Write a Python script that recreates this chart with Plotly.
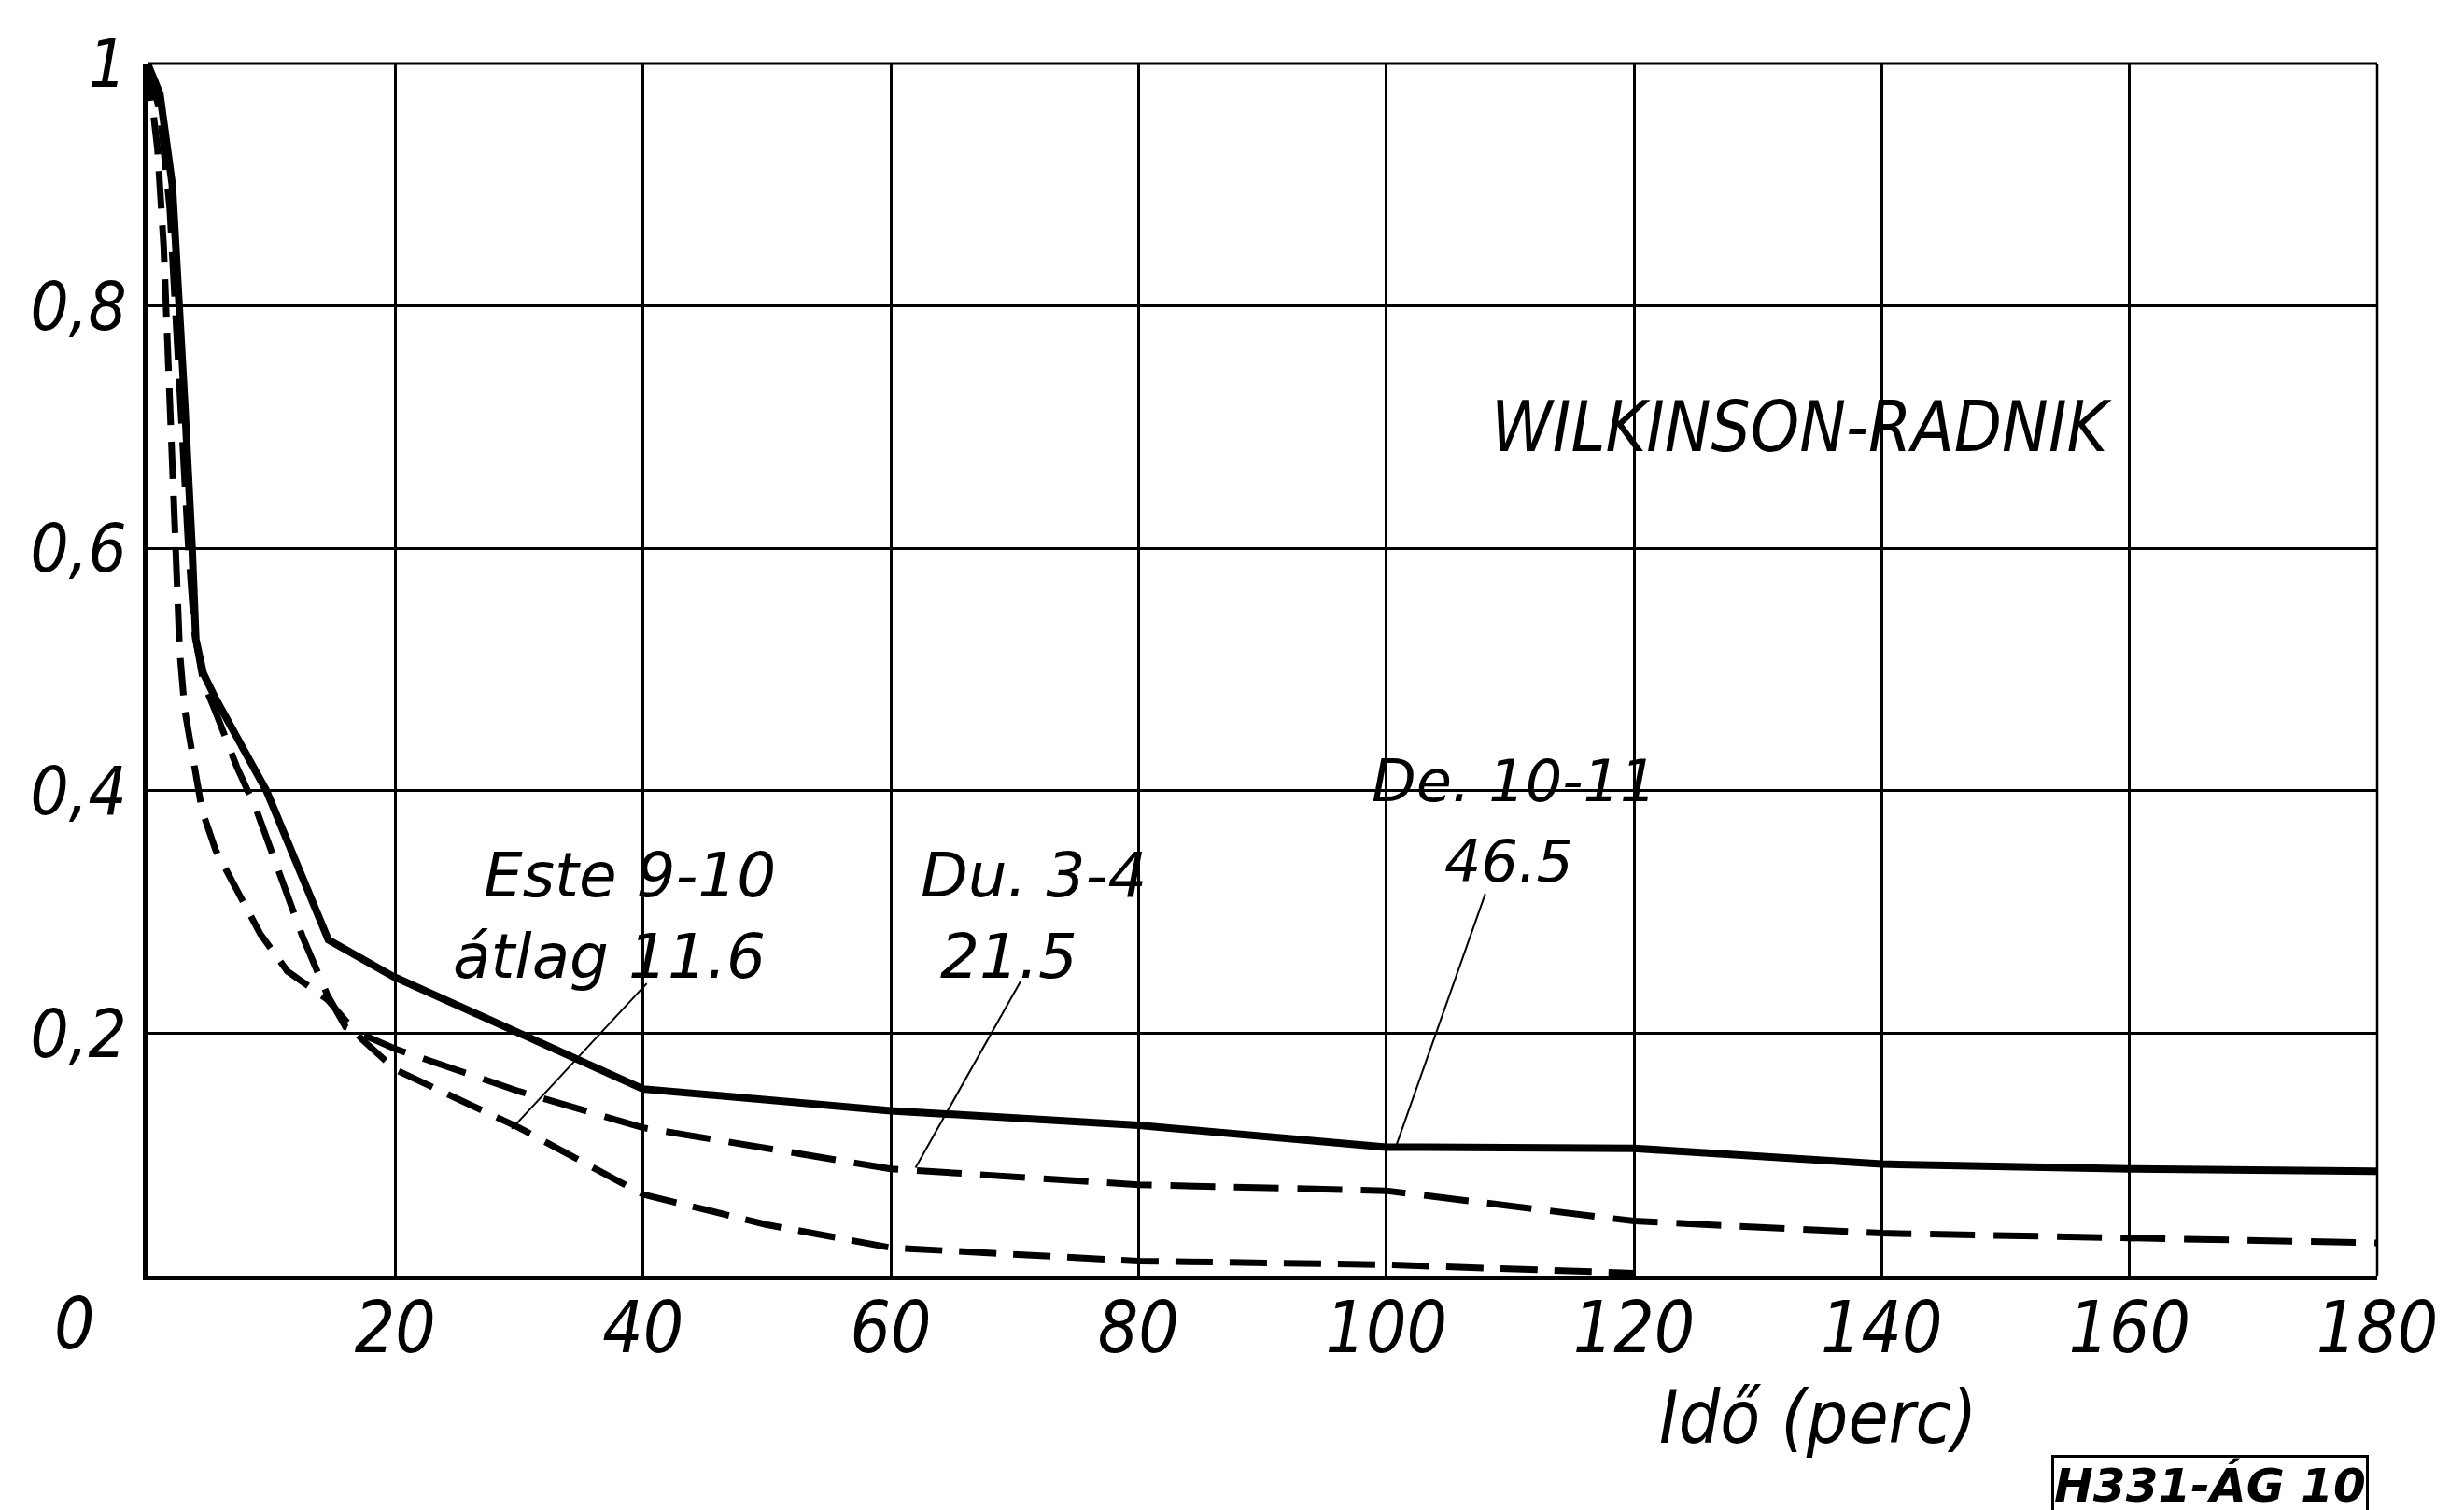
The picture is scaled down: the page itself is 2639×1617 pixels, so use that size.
import plotly.graph_objects as go

# ---- data ----
de_x = [0, 1, 2, 2.6, 3.0, 3.6, 3.9, 4.5, 5.5, 9.6, 14.6, 19.8, 40, 60, 80, 100, 120, 140, 160, 180]
de_y = [1.0, 0.975, 0.9, 0.8, 0.72, 0.6, 0.525, 0.497, 0.476, 0.40, 0.277, 0.247, 0.154, 0.136, 0.124, 0.106, 0.105, 0.092, 0.088, 0.086]

du_x = [0, 1, 1.8, 2.2, 2.7, 3.3, 3.8, 4.5, 5.5, 7.2, 8.8, 10.2, 11.6, 12.5, 14.5, 16, 20, 30, 40, 60, 80, 100, 120, 140, 160, 180]
du_y = [1.0, 0.96, 0.88, 0.8, 0.7, 0.6, 0.53, 0.49, 0.465, 0.42, 0.384, 0.344, 0.306, 0.28, 0.232, 0.205, 0.187, 0.152, 0.122, 0.088, 0.075, 0.070, 0.045, 0.035, 0.031, 0.027]

este_x = [0, 0.8, 1.3, 1.7, 2.1, 2.4, 2.6, 3.0, 3.8, 4.4, 5.5, 7.4, 9.1, 11.3, 14.5, 17.3, 20, 30, 40, 50, 60, 80, 100, 120]
este_y = [1.0, 0.93, 0.85, 0.75, 0.65, 0.567, 0.515, 0.467, 0.42, 0.384, 0.351, 0.314, 0.282, 0.251, 0.228, 0.195, 0.170, 0.122, 0.067, 0.042, 0.023, 0.012, 0.009, 0.002]

x_ticks = [20, 40, 60, 80, 100, 120, 140, 160, 180]
x_tick_text = ["20", "40", "60", "80", "100", "120", "140", "160", "180"]
y_ticks = [0.2, 0.4, 0.6, 0.8, 1.0]
y_tick_text = ["0,2", "0,4", "0,6", "0,8", "1"]

FONT_C = "DejaVu Sans Condensed, DejaVu Sans, Liberation Sans"
FONT_W = "DejaVu Sans, Liberation Sans"

fig = go.Figure()
fig.add_trace(go.Scatter(x=de_x, y=de_y, mode="lines", name="De. 10-11",
                         line=dict(color="black", width=8), cliponaxis=False))
fig.add_trace(go.Scatter(x=du_x, y=du_y, mode="lines", name="Du. 3-4",
                         line=dict(color="black", width=7, dash="48px,20px")))
fig.add_trace(go.Scatter(x=este_x, y=este_y, mode="lines", name="Este 9-10",
                         line=dict(color="black", width=7, dash="40px,18px")))

# frame lines at y = 1 and x = 180 (drawn like grid lines)
fig.add_shape(type="line", xref="paper", yref="paper", x0=0, x1=1, y0=1, y1=1,
              line=dict(color="black", width=3))
fig.add_shape(type="line", xref="paper", yref="paper", x0=1, x1=1, y0=0, y1=1,
              line=dict(color="black", width=2.5))

# labels inside the plot (data coordinates)
labels = [
    ("WILKINSON-RADNIK", 133.6, 0.70, 74, FONT_C),
    ("Este 9-10", 38.9, 0.330, 66, FONT_W),
    ("átlag 11.6", 37.3, 0.263, 66, FONT_W),
    ("Du. 3-4", 71.5, 0.330, 66, FONT_W),
    ("21.5", 69.5, 0.263, 66, FONT_W),
    ("De. 10-11", 110.3, 0.408, 62, FONT_W),
    ("46.5", 109.9, 0.342, 62, FONT_W),
]
for txt, lx, ly, fs, fam in labels:
    fig.add_annotation(x=lx, y=ly, xref="x", yref="y", text=txt, showarrow=False,
                       xanchor="center", yanchor="middle",
                       font=dict(family=fam, size=fs, color="black", style="italic"))

# texts outside the plot (paper coordinates)
fig.add_annotation(x=0.749, y=-0.117, xref="paper", yref="paper", text="Idő (perc)",
                   showarrow=False, xanchor="center", yanchor="middle",
                   font=dict(family=FONT_C, size=78, color="black", style="italic"))
fig.add_annotation(x=-0.0327, y=-0.040, xref="paper", yref="paper", text="0",
                   showarrow=False, xanchor="center", yanchor="middle",
                   font=dict(family=FONT_C, size=76, color="black", style="italic"))
fig.add_annotation(x=0.925, y=-0.1726, xref="paper", yref="paper", text="<b>H331-ÁG 10</b>",
                   showarrow=False, xanchor="center", yanchor="middle",
                   bordercolor="black", borderwidth=3, borderpad=0,
                   font=dict(family=FONT_W, size=50, color="black", style="italic"))

# leader lines from the labels to their curves
leaders = [
    (40.3, 0.241, 29.4, 0.121),
    (70.5, 0.243, 62.0, 0.089),
    (108.0, 0.315, 100.8, 0.107),
]
for x0, y0, x1, y1 in leaders:
    fig.add_shape(type="line", xref="x", yref="y", x0=x0, y0=y0, x1=x1, y1=y1,
                  line=dict(color="black", width=2))

fig.update_xaxes(range=[0, 180], tickvals=x_ticks, ticktext=x_tick_text,
                 showgrid=True, gridcolor="black", gridwidth=2.5,
                 showline=True, linecolor="black", linewidth=5, zeroline=False,
                 ticks="", ticklabelstandoff=-14,
                 tickfont=dict(family=FONT_C, size=76, color="black", style="italic"))
fig.update_yaxes(range=[0, 1], tickvals=y_ticks, ticktext=y_tick_text,
                 showgrid=True, gridcolor="black", gridwidth=2.5,
                 showline=True, linecolor="black", linewidth=5, zeroline=False,
                 ticks="", ticklabelstandoff=3,
                 tickfont=dict(family=FONT_C, size=72, color="black", style="italic"))

fig.update_layout(width=2639, height=1617, showlegend=False,
                  margin=dict(l=150, r=101, t=60, b=259),
                  paper_bgcolor="white", plot_bgcolor="white")

fig.write_html("out.html")
